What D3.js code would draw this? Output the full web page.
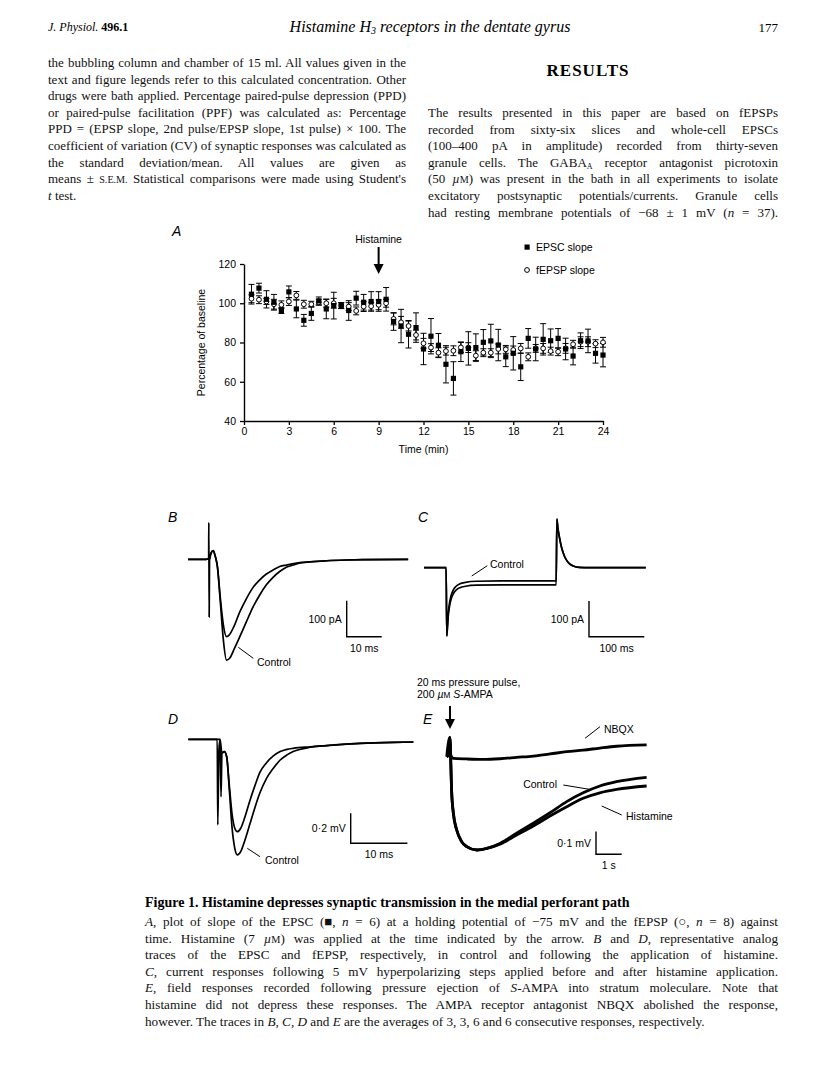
<!DOCTYPE html>
<html>
<head>
<meta charset="utf-8">
<script src="https://cdn.jsdelivr.net/npm/d3@7"></script>
<style>
  body { margin: 0; background: #fff; }
</style>
</head>
<body>
<svg id="page" width="816" height="1088"></svg>
<script>
const serif = "'Liberation Serif', 'DejaVu Serif', serif";
const sans = "'Liberation Sans', Arial, sans-serif";

// ---- panel A data (percentage of baseline) ----
const minutes = [0.5, 1, 1.5, 2, 2.5, 3, 3.5, 4, 4.5, 5, 5.5, 6, 6.5, 7, 7.5, 8, 8.5, 9, 9.5, 10, 10.5, 11, 11.5, 12,
  12.5, 13, 13.5, 14, 14.5, 15, 15.5, 16, 16.5, 17, 17.5, 18, 18.5, 19, 19.5, 20, 20.5, 21, 21.5, 22, 22.5, 23, 23.5, 24];
const epscSlope = [104.6, 107.7, 102, 100.5, 96.3, 105.8, 97.1, 91.3, 94.8, 101.2, 97.1, 98.8, 98.8, 96.3, 102.6, 100.5,
  100.9, 100.9, 102, 90.7, 88.4, 84.2, 87.6, 76.7, 83.2, 78.6, 68.9, 61.7, 75.3, 77, 77.4, 80.1, 80.8, 78.7, 72.7, 74.5,
  67.6, 82.1, 76.7, 81.6, 80.9, 82.1, 76.7, 73.1, 80.9, 80.8, 74.5, 73.6];
const epscSem = [5, 2.5, 4.4, 4, 1.5, 3, 4.5, 3, 3.5, 2, 5, 6.8, 1.5, 5, 3.5, 4, 5, 5, 6, 4.5, 8.5, 7, 7.5, 8, 9, 6, 9.5,
  8.5, 5, 8.5, 7, 6.5, 8.5, 8, 5, 8.5, 7, 5, 6, 8, 6, 5, 5.5, 4.5, 4, 6, 5, 6];
const fepspSlope = [102.3, 101.8, 100.9, 99.5, 99.2, 100.9, 104, 99.5, 99.5, 100.5, 100, 100, 98.8, 98.3, 96.1, 98.3,
  98.5, 99.2, 100, 92, 90.3, 88.4, 83.8, 79.6, 77.4, 74.8, 75.6, 75.8, 77.5, 77.4, 73.3, 74.8, 74.8, 76.7, 76.5, 76.2,
  77, 72.7, 77, 77, 75.6, 75.3, 77, 79.1, 80.4, 80.4, 79.4, 80.1];
const fepspSem = [2, 2, 1.5, 2.5, 2, 2, 2, 2, 1.5, 1.5, 2, 2.5, 1.5, 2, 2, 2.5, 2, 2.5, 2, 3, 3, 2.5, 2.5, 2.5, 2, 2.5,
  2, 2.5, 2.5, 2.5, 2.5, 2, 2, 2.5, 2, 2, 2.5, 2, 2, 2.5, 2, 2, 2.5, 2, 2.5, 2.5, 2, 2.5];
const yTicksA = [40, 60, 80, 100, 120];
const xTicksA = [0, 3, 6, 9, 12, 15, 18, 21, 24];
const histamineAt = 9;

// ---- traces: [time, amplitude] ----
// B: ms, pA
const traceBControl = [[0, 0], [5.2, 0], [5.9, 2], [5.95, 102], [6.05, -160], [6.15, 0], [6.6, 18], [7.2, 24], [7.8, 8],
  [8.4, -20], [9.2, -113], [10.1, -224], [11.0, -280], [11.9, -275], [13.3, -247], [14.8, -215], [16.7, -173],
  [18.6, -132], [20.5, -99], [22.4, -71], [24.3, -50], [26.2, -34], [28.1, -22], [30.1, -16], [32, -10], [34.8, -7],
  [39.6, -4], [45.3, -2], [51, -1], [62.9, 0]];
const traceBHistamine = [[0, 0], [5.2, 0], [5.9, 2], [6.15, 0], [6.6, 18], [7.2, 24], [7.8, 8], [8.4, -20], [9.2, -104],
  [10.1, -182], [11.0, -215], [11.8, -210], [13.1, -187], [14.8, -146], [16.7, -109], [18.6, -78], [20.5, -57],
  [22.4, -41], [24.3, -30], [26.2, -20], [28.1, -16], [32, -9], [34.8, -7], [39.6, -4], [45.3, -2], [51, -1], [62.9, 0]];
// C: ms, pA
const traceCControl = [[0, 0], [40, 0], [41.2, -191], [42.5, -160], [44, -125], [46, -100], [49, -78], [53, -62],
  [58, -52], [65, -45], [75, -41], [95, -38], [140, -37], [239, -37], [240.3, 136], [242, 112], [245, 84], [249, 55],
  [254, 32], [260, 16], [268, 6], [280, 1], [300, 0], [401, 0]];
const traceCHistamine = [[0, 0], [40, 0], [41.2, -191], [42.5, -165], [44, -133], [46, -110], [49, -88], [53, -73],
  [58, -63], [65, -56], [75, -52], [95, -49], [140, -48], [239, -48], [240.3, 136], [242, 112], [245, 84], [249, 55],
  [254, 32], [260, 16], [268, 6], [280, 1], [300, 0], [401, 0]];
// D: ms, mV
const traceDControl = [[0, 0], [4.7, 0], [5.1, 0], [5.2, -0.571], [5.4, -0.071], [5.6, 0], [5.77, -0.383], [5.94, -0.093],
  [6.35, -0.082], [6.77, -0.116], [7.2, -0.316], [7.7, -0.582], [8.2, -0.727], [8.65, -0.771], [9.24, -0.749],
  [10, -0.671], [10.9, -0.56], [11.8, -0.449], [12.6, -0.36], [13.8, -0.26], [15, -0.193], [16.2, -0.138],
  [17.4, -0.104], [18.5, -0.082], [21.5, -0.053], [24.4, -0.042], [30.3, -0.027], [36.2, -0.02], [39.7, -0.018]];
const traceDHistamine = [[0, 0], [4.7, 0], [5.1, 0], [5.6, 0], [5.94, -0.093], [6.35, -0.082], [6.77, -0.116],
  [7.2, -0.293], [7.7, -0.493], [8.2, -0.593], [8.65, -0.616], [9.24, -0.593], [10, -0.516], [10.9, -0.404],
  [11.8, -0.304], [12.6, -0.222], [13.8, -0.156], [15, -0.111], [16.2, -0.082], [17.4, -0.067], [18.5, -0.06],
  [21.5, -0.05], [24.4, -0.042], [30.3, -0.027], [36.2, -0.02], [39.7, -0.018]];
// E: s, mV
const traceENbqx = [[0, 0], [0.08, 0.007], [0.12, 0.085], [0.16, 0.007], [0.26, -0.007], [0.78, -0.01], [1.42, -0.012],
  [2.07, -0.009], [2.72, -0.003], [3.37, 0.003], [4.02, 0.012], [4.67, 0.022], [5.31, 0.029], [5.96, 0.038],
  [6.61, 0.046], [7.78, 0.052]];
const traceEControl = [[0, 0], [0.08, 0.007], [0.12, 0.085], [0.16, -0.029], [0.19, -0.147], [0.26, -0.25],
  [0.39, -0.323], [0.58, -0.374], [0.78, -0.396], [1.17, -0.411], [1.56, -0.404], [2.07, -0.382], [2.72, -0.337],
  [3.37, -0.293], [4.02, -0.247], [4.67, -0.198], [5.31, -0.159], [5.96, -0.129], [6.61, -0.11], [7.78, -0.091]];
const traceEHistamine = [[0, 0], [0.12, 0.085], [0.16, -0.029], [0.19, -0.147], [0.26, -0.25], [0.39, -0.323],
  [0.58, -0.374], [0.78, -0.396], [1.17, -0.411], [1.56, -0.404], [2.07, -0.385], [2.72, -0.345], [3.37, -0.305],
  [4.02, -0.261], [4.67, -0.22], [5.31, -0.183], [5.96, -0.159], [6.61, -0.144], [7.78, -0.129]];

// ---- page text ----
const leftLines = [
  "the bubbling column and chamber of 15 ml. All values given in the",
  "text and figure legends refer to this calculated concentration. Other",
  "drugs were bath applied. Percentage paired-pulse depression (PPD)",
  "or paired-pulse facilitation (PPF) was calculated as: Percentage",
  "PPD = (EPSP slope, 2nd pulse/EPSP slope, 1st pulse) × 100. The",
  "coefficient of variation (CV) of synaptic responses was calculated as",
  "the standard deviation/mean. All values are given as",
  "means ± <sc>s.e.m.</sc> Statistical comparisons were made using Student's",
  "<i>t</i> test."
];
const rightLines = [
  "The results presented in this paper are based on fEPSPs",
  "recorded from sixty-six slices and whole-cell EPSCs",
  "(100–400 pA in amplitude) recorded from thirty-seven",
  "granule cells. The GABA<sub>A</sub> receptor antagonist picrotoxin",
  "(50 <i>µ</i><sc>m</sc>) was present in the bath in all experiments to isolate",
  "excitatory postsynaptic potentials/currents. Granule cells",
  "had resting membrane potentials of −68 ± 1 mV (<i>n</i> = 37)."
];
const captionTitle = "Figure 1. Histamine depresses synaptic transmission in the medial perforant path";
const captionLines = [
  "<i>A</i>, plot of slope of the EPSC (■, <i>n</i> = 6) at a holding potential of −75 mV and the fEPSP (○, <i>n</i> = 8) against",
  "time. Histamine (7 <i>µ</i><sc>m</sc>) was applied at the time indicated by the arrow. <i>B</i> and <i>D</i>, representative analog",
  "traces of the EPSC and fEPSP, respectively, in control and following the application of histamine.",
  "<i>C</i>, current responses following 5 mV hyperpolarizing steps applied before and after histamine application.",
  "<i>E</i>, field responses recorded following pressure ejection of <i>S</i>-AMPA into stratum moleculare. Note that",
  "histamine did not depress these responses. The AMPA receptor antagonist NBQX abolished the response,",
  "however. The traces in <i>B</i>, <i>C</i>, <i>D</i> and <i>E</i> are the averages of 3, 3, 6 and 6 consecutive responses, respectively."
];

const svg = d3.select("#page");

function rich(sel, str) {
  const re = /<(i|b|sub|sc)>(.*?)<\/\1>|([^<]+)/g;
  let m;
  while ((m = re.exec(str))) {
    if (m[3]) { sel.append("tspan").text(m[3]); continue; }
    const t = sel.append("tspan");
    if (m[1] === "i") t.attr("font-style", "italic").text(m[2]);
    if (m[1] === "b") t.attr("font-weight", "bold").text(m[2]);
    if (m[1] === "sub") t.attr("baseline-shift", "-2").attr("font-size", "62%").text(m[2]);
    if (m[1] === "sc") t.attr("font-size", "78%").text(m[2].toUpperCase());
  }
  return sel;
}

function justify(t, width) {
  const node = t.node();
  const natural = node.getComputedTextLength();
  const spaces = (node.textContent.match(/ /g) || []).length;
  if (spaces) t.style("word-spacing", ((width - natural) / spaces) + "px");
  if (Math.abs(node.getComputedTextLength() - width) > 1.5) {
    t.style("word-spacing", null).attr("textLength", width).attr("lengthAdjust", "spacing");
  }
}

function paragraph(lines, x, y0, width, lh, size, lastJustified) {
  lines.forEach((s, i) => {
    const t = svg.append("text").attr("x", x).attr("y", y0 + i * lh)
      .attr("font-family", serif).attr("font-size", size).attr("fill", "#111");
    rich(t, s);
    if (i < lines.length - 1 || lastJustified) justify(t, width);
  });
}

// ---- running head ----
const head = svg.append("text").attr("x", 48).attr("y", 31).attr("font-family", serif).attr("font-size", 12);
rich(head, "<i>J. Physiol.</i> <b>496.1</b>");
const title = svg.append("text").attr("x", 430).attr("y", 32).attr("text-anchor", "middle")
  .attr("font-family", serif).attr("font-size", 16).attr("font-style", "italic");
rich(title, "Histamine H<sub>3</sub> receptors in the dentate gyrus");
svg.append("text").attr("x", 778).attr("y", 32).attr("text-anchor", "end")
  .attr("font-family", serif).attr("font-size", 13).text("177");

paragraph(leftLines, 48, 67, 358, 16.6, 13, false);
svg.append("text").attr("x", 588).attr("y", 76).attr("text-anchor", "middle")
  .attr("font-family", serif).attr("font-size", 17).attr("font-weight", "bold")
  .attr("letter-spacing", 1).text("RESULTS");
paragraph(rightLines, 428, 117, 350, 16.6, 13, true);

// ---- panel A ----
const xA = d3.scaleLinear().domain([0, 24]).range([244, 603]);
const yA = d3.scaleLinear().domain([40, 120]).range([421, 264]);
const gA = svg.append("g");

const yAxisA = gA.append("g").attr("transform", `translate(${xA(0)},0)`)
  .call(d3.axisLeft(yA).tickValues(yTicksA).tickSize(4).tickSizeOuter(0).tickPadding(4));
const xAxisA = gA.append("g").attr("transform", `translate(0,${yA(40)})`)
  .call(d3.axisBottom(xA).tickValues(xTicksA).tickSize(4).tickSizeOuter(0).tickPadding(3));
[yAxisA, xAxisA].forEach(ax => {
  ax.select(".domain").attr("stroke-width", 1.4);
  ax.selectAll(".tick line").attr("stroke-width", 1.3);
  ax.selectAll("text").attr("font-family", sans).attr("font-size", 10.5).attr("fill", "#000");
});

gA.append("text").attr("transform", `translate(205,${yA(80)}) rotate(-90)`).attr("text-anchor", "middle")
  .attr("font-family", sans).attr("font-size", 10.5).text("Percentage of baseline");
gA.append("text").attr("x", xA(12)).attr("y", 453).attr("text-anchor", "middle")
  .attr("font-family", sans).attr("font-size", 10.5).text("Time (min)");
gA.append("text").attr("x", 172).attr("y", 236).attr("font-family", sans).attr("font-size", 14)
  .attr("font-style", "italic").text("A");

function errorBars(values, sems) {
  const g = gA.append("g").attr("stroke", "#000").attr("stroke-width", 1);
  minutes.forEach((t, i) => {
    const x = xA(t), top = yA(values[i] + sems[i]), bot = yA(values[i] - sems[i]);
    g.append("line").attr("x1", x).attr("x2", x).attr("y1", top).attr("y2", bot);
    g.append("line").attr("x1", x - 3).attr("x2", x + 3).attr("y1", top).attr("y2", top);
    g.append("line").attr("x1", x - 3).attr("x2", x + 3).attr("y1", bot).attr("y2", bot);
  });
}
errorBars(fepspSlope, fepspSem);
errorBars(epscSlope, epscSem);
gA.append("g").selectAll("circle").data(minutes).join("circle")
  .attr("cx", d => xA(d)).attr("cy", (d, i) => yA(fepspSlope[i])).attr("r", 2.4)
  .attr("fill", "#fff").attr("stroke", "#000").attr("stroke-width", 1);
gA.append("g").selectAll("rect").data(minutes).join("rect")
  .attr("x", d => xA(d) - 2.6).attr("y", (d, i) => yA(epscSlope[i]) - 2.6)
  .attr("width", 5.2).attr("height", 5.2).attr("fill", "#000");

// histamine arrow
function arrow(x, y1, y2) {
  svg.append("line").attr("x1", x).attr("x2", x).attr("y1", y1).attr("y2", y2 - 8)
    .attr("stroke", "#000").attr("stroke-width", 2);
  svg.append("path").attr("d", `M${x - 5},${y2 - 10}L${x + 5},${y2 - 10}L${x},${y2}Z`).attr("fill", "#000");
}
gA.append("text").attr("x", xA(histamineAt)).attr("y", 243).attr("text-anchor", "middle")
  .attr("font-family", sans).attr("font-size", 10.5).text("Histamine");
arrow(xA(histamineAt), 247, 274);

// legend
gA.append("rect").attr("x", 524.5).attr("y", 244.5).attr("width", 5.2).attr("height", 5.2).attr("fill", "#000");
gA.append("text").attr("x", 536).attr("y", 251).attr("font-family", sans).attr("font-size", 10.5).text("EPSC slope");
gA.append("circle").attr("cx", 527).attr("cy", 270).attr("r", 2.4).attr("fill", "#fff").attr("stroke", "#000");
gA.append("text").attr("x", 536).attr("y", 274).attr("font-family", sans).attr("font-size", 10.5).text("fEPSP slope");

// ---- trace panels ----
function label(x, y, s, anchor, size, italic) {
  const t = svg.append("text").attr("x", x).attr("y", y).attr("text-anchor", anchor || "start")
    .attr("font-family", sans).attr("font-size", size || 10.5);
  if (italic) t.attr("font-style", "italic");
  rich(t, s);
}
function pointer(x1, y1, x2, y2) {
  svg.append("line").attr("x1", x1).attr("y1", y1).attr("x2", x2).attr("y2", y2)
    .attr("stroke", "#000").attr("stroke-width", 1);
}
function tracePanel(p) {
  const x = d3.scaleLinear().domain([0, 1]).range([p.x0, p.x0 + p.pxPerT]);
  const y = d3.scaleLinear().domain([0, -1]).range([p.y0, p.y0 + p.pxPerA]);
  const line = d3.line().x(d => x(d[0])).y(d => y(d[1])).curve(d3.curveMonotoneX);
  p.traces.forEach(tr => svg.append("path").attr("d", line(tr)).attr("fill", "none")
    .attr("stroke", "#000").attr("stroke-width", p.sw).attr("stroke-linejoin", "round"));
  // scale bar
  const bx = p.bar[0], by = p.bar[1];
  const h = y(-p.barA) - y(0), w = x(p.barT) - x(0);
  svg.append("path").attr("d", `M${bx},${by - h}V${by}H${bx + w}`).attr("fill", "none")
    .attr("stroke", "#000").attr("stroke-width", 1.4);
  label(bx - 5, by - h / 2 + 4, p.ampLabel, "end");
  label(bx + w / 2, by + 15, p.timeLabel, "middle");
}

label(168, 522, "B", "start", 14, true);
tracePanel({ x0: 188, pxPerT: 3.5, y0: 559.3, pxPerA: 0.36, traces: [traceBControl, traceBHistamine], sw: 1.7,
  bar: [346.7, 636.7], barT: 10, barA: 100, ampLabel: "100 pA", timeLabel: "10 ms" });
pointer(238.3, 647.3, 253.3, 658.3);
label(257, 665.5, "Control");

label(418, 522, "C", "start", 14, true);
tracePanel({ x0: 424, pxPerT: 0.553, y0: 567.7, pxPerA: 0.357, traces: [traceCControl, traceCHistamine], sw: 1.7,
  bar: [589, 636.7], barT: 100, barA: 100, ampLabel: "100 pA", timeLabel: "100 ms" });
pointer(471.7, 576, 487.3, 565.7);
label(490, 567.5, "Control");

label(417, 685.5, "20 ms pressure pulse,");
label(417, 698, "200 <i>µ</i><sc>m</sc> <i>S</i>-AMPA");

label(168, 724, "D", "start", 14, true);
tracePanel({ x0: 188.3, pxPerT: 5.67, y0: 739.3, pxPerA: 150, traces: [traceDControl, traceDHistamine], sw: 1.7,
  bar: [350.7, 843.3], barT: 10, barA: 0.2, ampLabel: "0·2 mV", timeLabel: "10 ms" });
pointer(247.3, 848.3, 260, 856.7);
label(265, 864, "Control");

label(423, 724, "E", "start", 14, true);
arrow(450, 706, 729);
tracePanel({ x0: 446.7, pxPerT: 25.7, y0: 756.7, pxPerA: 227, traces: [traceENbqx, traceEControl, traceEHistamine],
  sw: 2.8, bar: [596, 854.3], barT: 1, barA: 0.1, ampLabel: "0·1 mV", timeLabel: "1 s" });
pointer(585, 738.3, 600, 726.7);
label(604, 733, "NBQX");
pointer(563.3, 785, 589.3, 789.3);
label(557, 788, "Control", "end");
pointer(601.7, 806, 621.7, 815);
label(626, 820, "Histamine");

// ---- caption ----
svg.append("text").attr("x", 145).attr("y", 907).attr("font-family", serif).attr("font-size", 14)
  .attr("font-weight", "bold").text(captionTitle);
paragraph(captionLines, 145, 926, 633, 16.6, 13.2, false);
</script>
</body>
</html>
